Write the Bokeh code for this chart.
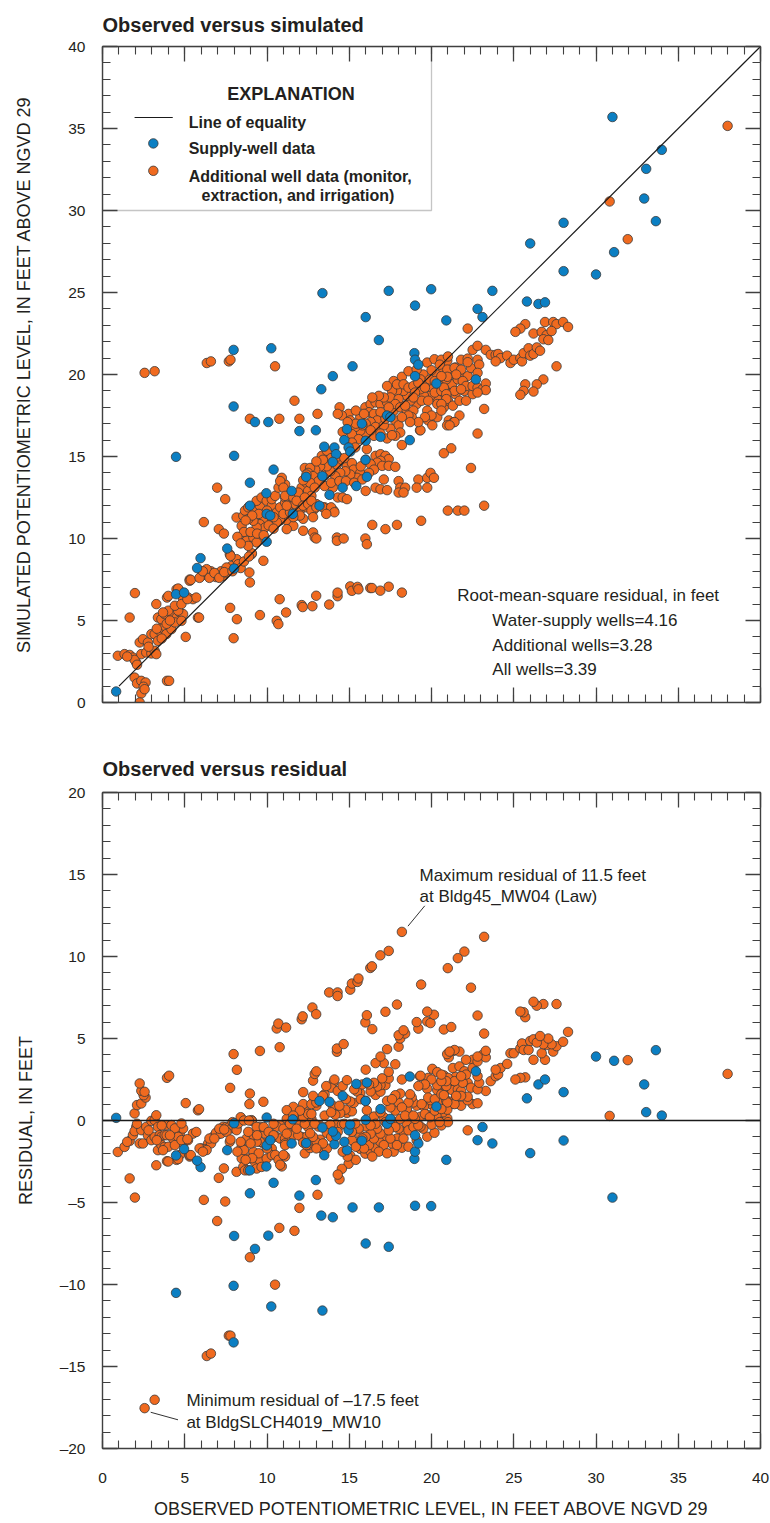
from bokeh.plotting import figure
from bokeh.models import (LinearAxis, SingleIntervalTicker, Range1d, Label,
                          BoxAnnotation, Span)
from bokeh.layouts import column
from bokeh.embed import file_html
from bokeh.resources import INLINE

# ---------------- data (feet above NGVD 29) ----------------
supply_obs = [0.83, 4.47, 7.97, 7.97, 8.0, 10.26, 13.37, 17.4, 19.98, 19.0, 16.0, 20.9,
              22.8, 16.8, 15.2, 14.0, 13.3, 18.96, 19.0, 19.2, 19.0, 20.3, 22.7, 9.27,
              10.08, 11.97, 12.97, 14.86, 15.77, 17.3, 17.5, 16.9, 18.68, 14.7, 16.0, 14.96,
              15.06, 13.48, 14.1, 14.2, 14.0, 15.99, 12.38, 13.37, 16.07, 14.6, 15.43, 8.96,
              11.5, 9.96, 13.8, 8.96, 13.19, 9.98, 10.2, 11.57, 9.98, 7.58, 5.96, 5.75,
              8.0, 4.47, 4.96, 10.4, 31.0, 34.0, 33.05, 32.93, 33.64, 28.03, 26.0, 31.1,
              28.03, 30.0, 23.7, 25.8, 26.5, 26.9, 23.1]
supply_sim = [0.67, 14.98, 21.5, 18.05, 15.04, 21.6, 24.96, 25.1, 25.2, 24.2, 23.5, 23.3,
              24.0, 22.1, 20.5, 19.9, 19.1, 21.3, 20.9, 20.6, 19.9, 19.45, 19.7, 17.1,
              17.1, 16.55, 16.6, 16.67, 17.0, 17.5, 17.4, 16.2, 16.0, 16.0, 15.96, 15.55,
              15.3, 15.6, 15.55, 15.14, 14.67, 14.8, 13.76, 13.8, 13.76, 13.1, 13.2, 13.4,
              12.9, 12.76, 12.66, 12.0, 12.0, 11.5, 11.4, 11.5, 9.8, 9.39, 8.8, 8.2,
              8.17, 6.6, 6.7, 14.2, 35.7, 33.7, 32.54, 30.73, 29.35, 29.25, 27.99, 27.46,
              26.3, 26.1, 25.1, 24.45, 24.3, 24.4, 23.5]

other_obs = [
    0.93, 1.34, 1.65, 1.85, 2.05, 1.95, 2.36, 2.66, 2.97, 3.17, 3.27, 2.26, 2.46, 2.76, 2.97,
    3.17, 3.37, 3.48, 3.58, 3.78, 3.88, 4.19, 3.37, 3.58, 3.78, 4.29, 4.5, 4.7, 4.9, 4.4,
    4.8, 3.92, 4.5, 4.7, 4.9, 5.2, 5.3, 5.8, 5.06, 3.27, 1.97, 1.65, 1.95, 2.1, 2.36,
    2.62, 2.5, 2.36, 2.56, 2.26, 3.92, 4.05, 2.1, 1.5, 2.8, 4.0, 4.6, 5.3, 4.6, 4.0,
    5.5, 5.7, 3.68, 3.6, 3.9, 4.1, 4.4, 4.8, 3.3,
    5.37, 5.16, 5.87, 7.97, 7.76, 8.17, 9.57, 6.02, 6.42, 6.73, 7.04, 7.34, 7.54, 6.2, 6.9,
    7.2, 5.9, 6.6, 7.7, 6.33, 7.74, 8.15, 7.85, 7.54, 8.15, 7.78, 8.25, 9.06, 9.78, 8.93,
    8.96, 9.08, 6.97, 7.46, 6.16, 7.07, 7.38, 8.15, 10.77,
    6.1, 6.5, 6.8, 7.1, 7.4, 7.9, 8.4, 8.6, 8.9,
    2.56, 3.17, 6.34, 6.59, 7.68, 7.78, 10.49, 11.67, 13.07, 11.97, 10.75, 8.96,
    10.59, 10.69, 11.16, 12.11, 12.17, 12.76, 12.99, 13.78, 14.29, 14.29, 15.06, 15.16, 15.5,
    15.56, 16.28, 16.38, 16.89, 17.4, 18.2,
    8.46, 8.56, 8.66, 8.86, 9.27, 9.57, 9.37, 9.67, 9.98, 10.29, 10.29, 10.18, 9.78, 9.57,
    9.88, 9.37, 9.17, 8.86, 8.46, 8.76, 9.17, 9.57, 9.37, 8.86, 10.6, 10.8, 11.1, 11.3, 11.1,
    11.7, 12.0, 12.0, 12.4, 12.8, 13.0, 13.5, 14.05, 11.8, 12.2, 11.2, 10.8, 11.6, 12.2, 12.8,
    12.9, 11.2, 10.6, 10.5, 10.7, 11.1, 12.1, 12.4, 12.5, 12.7, 13.2, 12.3, 12.8, 13.6, 14.25,
    14.25, 14.66, 15.98, 16.07, 16.4, 17.2, 17.9, 13.0, 10.9,
    8.6, 9.0, 9.4, 9.8, 10.1, 10.4, 10.0, 9.5, 9.1, 8.7, 8.2, 8.4, 10.4, 11.0, 11.4,
    10.8, 11.0, 11.1, 11.6, 11.9, 11.8, 12.3, 12.2, 12.5, 12.7, 12.7, 13.0, 13.4, 13.9, 14.1,
    13.6, 12.8, 12.0, 11.6, 11.2, 14.3, 14.0, 14.6, 14.86,
    13.33, 13.64, 14.25, 14.55, 14.86, 15.16, 15.27, 15.67, 15.47, 15.06, 14.76, 14.45, 14.15,
    13.85, 13.64, 13.23, 12.93, 12.62, 12.5, 12.8, 13.13, 12.62, 12.2,
    13.9, 14.3, 14.7, 13.4, 13.0, 12.4, 12.9, 13.5, 13.9, 14.4, 14.8, 15.3, 15.8, 15.7, 16.0,
    16.6, 16.9, 17.2, 17.4, 16.9, 16.7, 17.0, 17.4, 17.8, 16.3, 16.5, 16.2, 17.1, 16.6, 16.0,
    16.9, 17.3, 18.0, 18.1, 18.4, 18.0, 18.3, 19.2, 19.74, 19.94, 20.15, 19.74, 19.1, 19.37,
    20.99, 21.6, 22.0,
    14.41, 14.96, 14.55, 15.06, 15.67, 15.98, 16.3, 16.6, 16.9, 17.3, 16.2, 16.5, 16.9, 16.7,
    16.3, 17.7, 17.8, 18.0, 17.5, 18.1, 17.8, 16.5, 16.0, 15.67, 15.37, 15.16, 15.57, 15.16,
    15.37, 16.07, 18.2, 19.3, 20.75, 21.2,
    15.4, 15.9, 16.0, 16.6, 17.1, 17.2, 16.9, 17.3, 15.8, 15.4, 14.9, 14.6, 14.3, 16.3, 17.6,
    19.74, 20.18, 20.55, 20.96, 21.46, 21.5, 21.06, 20.7, 20.3, 20.0, 19.5, 19.33, 19.74, 20.05,
    20.75, 20.85, 21.35, 21.25, 20.65, 20.35, 19.94, 19.54, 19.33, 19.1, 18.72, 18.5, 18.3, 18.2,
    17.7, 17.9, 17.6, 17.5, 18.0, 17.8, 18.1, 18.5, 18.9, 18.8, 19.74, 20.35, 19.8, 20.05, 20.35,
    21.05, 21.35, 20.95, 19.33, 18.6, 18.2, 21.46, 20.75,
    17.9, 18.3, 18.6, 18.9, 19.2, 19.6, 19.9, 20.2, 20.5, 20.9, 21.2, 21.6, 19.0, 19.4, 19.8,
    20.2, 20.6, 21.0, 21.3, 21.7, 20.0, 19.6, 19.2, 18.7, 18.4, 18.9, 17.4, 17.1, 16.8, 16.4,
    17.3, 18.6, 19.1, 20.6, 21.0, 21.8, 22.2, 22.4, 22.0, 22.5,
    22.2, 25.7, 25.4, 25.1, 26.2, 26.9, 27.4, 27.6, 28.0, 28.3, 26.7, 27.0, 27.3, 26.8, 27.1,
    22.5, 22.8, 23.3, 23.6, 23.9, 24.05, 24.2, 23.9, 24.6, 24.8, 25.0, 25.4, 25.5, 25.6, 25.9,
    26.0, 26.2, 26.4, 26.6, 27.6, 26.8, 26.4, 26.2, 25.7, 25.6, 25.4, 23.2, 22.8, 22.1, 21.7,
    21.4, 21.1, 22.4, 23.2,
    21.8, 22.2, 22.2, 22.8, 22.9, 22.8, 20.5, 20.96, 21.4, 21.8, 21.5, 20.96, 20.6, 21.9, 22.1,
    22.5, 22.8, 23.1, 23.3, 23.3, 22.8, 21.4, 21.8, 20.75, 20.9, 20.9, 20.6, 20.6,
    38.0, 30.83, 31.93]
other_sim = [
    2.85, 2.95, 2.9, 2.74, 2.44, 2.6, 2.95, 3.05, 2.99, 3.15, 2.95, 3.66, 3.86, 3.66, 4.17,
    4.17, 3.76, 4.37, 4.57, 4.67, 4.17, 4.47, 5.18, 5.08, 5.39, 5.39, 5.18, 5.49, 5.39, 4.88,
    4.98, 6.4, 6.9, 6.8, 6.3, 6.4, 7.5, 5.18, 4.0, 6.0, 6.67, 5.18, 1.52, 1.16, 1.32,
    1.22, 0.96, 0.55, 0.81, 0.0, 1.32, 1.32, 2.3, 2.8, 3.4, 5.6, 5.6, 7.42, 6.95, 6.5,
    6.3, 6.4, 5.49, 3.9, 4.8, 5.0, 5.9, 6.0, 4.5,
    7.48, 6.3, 5.18, 3.92, 5.77, 5.08, 5.33, 7.72, 7.83, 7.72, 7.87, 7.72, 7.93, 7.95, 7.65,
    8.0, 7.6, 8.0, 8.1, 8.13, 9.04, 8.6, 8.33, 8.23, 8.74, 8.94, 8.43, 9.04, 8.64, 7.93,
    7.32, 9.1, 13.1, 12.4, 11.0, 10.57, 10.3, 11.28, 6.3,
    8.0, 7.6, 7.9, 7.6, 7.95, 8.0, 8.2, 8.6, 8.9,
    20.1, 20.2, 20.7, 20.8, 20.8, 20.9, 20.5, 18.4, 17.6, 17.3, 17.3, 17.3,
    4.98, 4.78, 5.49, 5.94, 5.82, 5.87, 6.51, 5.97, 6.48, 6.7, 7.08, 6.81, 7.05,
    6.9, 6.98, 6.98, 6.82, 7.06, 6.7,
    10.77, 11.38, 11.7, 11.9, 11.8, 12.0, 12.3, 12.5, 12.3, 12.0, 12.4, 11.28, 11.18, 10.87,
    10.67, 10.67, 11.08, 11.18, 10.06, 9.86, 10.06, 9.96, 9.76, 9.55, 11.6, 11.9, 12.2, 12.0, 12.5,
    12.1, 12.2, 11.7, 11.9, 11.7, 12.1, 11.9, 11.7, 11.4, 11.2, 11.1, 11.1, 10.77, 10.47, 10.37,
    10.06, 10.57, 10.98, 12.6, 13.1, 13.3, 13.1, 13.4, 12.9, 12.6, 13.5, 14.3, 14.3, 14.0, 10.06,
    9.86, 10.0, 10.0, 9.65, 10.83, 10.57, 10.83, 10.0, 13.7,
    10.4, 10.4, 10.3, 10.2, 10.8, 11.3, 11.7, 11.5, 11.4, 11.1, 10.1, 9.7, 10.6, 11.5, 11.6,
    13.5, 13.1, 12.6, 12.5, 12.8, 12.3, 12.5, 12.0, 12.1, 12.3, 11.7, 11.9, 11.9, 11.9, 11.6,
    11.5, 11.3, 11.4, 11.3, 12.0, 12.5, 13.1, 12.5, 12.4,
    15.04, 15.35, 14.5, 14.8, 14.4, 14.6, 14.2, 14.0, 13.7, 13.9, 14.1, 14.0, 13.8,
    14.1, 14.4, 14.4, 14.2, 14.3, 14.0, 13.8, 13.5, 13.4, 13.55,
    14.9, 15.0, 14.9, 14.8, 14.7, 13.9, 13.1, 13.2, 13.4, 13.5, 13.5, 13.4, 13.6, 14.4, 14.8,
    15.04, 15.14, 15.04, 14.84, 14.74, 14.63, 14.43, 14.43, 14.37, 14.53, 14.2, 14.0, 13.6, 13.1, 12.9,
    13.0, 12.95, 13.5, 13.1, 13.1, 12.8, 12.8, 13.6, 13.7, 14.0, 13.7, 13.1, 13.1, 11.08,
    11.7, 11.7, 11.7,
    18.0, 17.6, 17.5, 17.2, 17.4, 18.0, 18.2, 18.3, 18.2, 18.3, 17.7, 17.6, 17.7, 17.2,
    17.1, 17.8, 17.2, 16.9, 16.7, 16.46, 16.26, 16.26, 16.36, 16.57, 16.8, 16.36, 16.06, 15.85,
    15.55, 15.45, 15.7, 16.6, 15.2, 15.5,
    17.8, 17.6, 17.0, 16.8, 16.9, 17.3, 16.4, 16.1, 16.9, 17.0, 17.1, 16.5, 17.6, 16.6, 16.3,
    20.73, 20.93, 20.63, 20.83, 20.43, 20.06, 19.9, 20.2, 20.0, 20.26, 20.0, 19.7, 19.4, 19.1,
    19.5, 19.0, 19.0, 19.4, 18.7, 18.5, 18.7, 18.7, 19.1, 18.2, 18.4, 18.7, 19.0, 19.86,
    19.6, 19.0, 19.0, 18.6, 18.5, 18.2, 18.0, 17.8, 17.8, 17.4, 17.8, 18.2, 17.2, 16.9, 17.4,
    17.2, 17.1, 16.9, 16.6, 17.5, 17.4, 18.8, 18.0,
    19.4, 19.4, 19.2, 19.3, 19.5, 19.2, 19.7, 19.6, 19.3, 19.7, 20.2, 19.7, 18.9, 18.4, 18.4,
    18.9, 19.0, 18.4, 18.1, 18.4, 17.5, 17.4, 17.1, 17.1, 18.1, 18.6, 18.0, 18.6, 18.7, 18.6,
    19.3, 20.2, 20.3, 20.9, 21.1, 20.0, 19.9, 20.4, 19.0, 18.8,
    22.8, 23.07, 22.8, 22.6, 22.5, 23.2, 23.2, 23.07, 23.2, 22.9, 22.6, 22.4, 22.65, 22.15, 22.1,
    21.5, 21.75, 21.5, 21.2, 21.2, 21.25, 21.0, 20.8, 21.15, 20.7, 20.9, 21.0, 20.8, 21.3, 21.6,
    21.15, 21.25, 21.65, 21.45, 20.5, 19.7, 19.4, 18.96, 19.4, 19.0, 18.76, 17.9, 16.4, 18.4, 17.5,
    17.1, 16.9, 14.3, 12.0,
    20.9, 20.97, 20.75, 20.9, 20.6, 20.1, 20.6, 20.3, 20.4, 20.3, 20.0, 19.86, 19.9, 19.6, 19.3,
    19.3, 19.2, 19.1, 19.45, 19.05, 18.9, 19.0, 19.1, 19.2, 18.8, 18.5, 18.2, 17.8,
    35.16, 30.55, 28.25]

# residual = observed - simulated
supply_res = [o - s for o, s in zip(supply_obs, supply_sim)]
other_res = [o - s for o, s in zip(other_obs, other_sim)]

equality = [1, 40]
tick_interval = 5

# ---------------- style ----------------
FONT = "Liberation Sans"
BLUE = "#0b7fc3"
ORANGE = "#f06a1f"
EDGE = "#3a3a3a"
AXC = "#404040"
TXT = "#231f20"
MS = 9.5


def style_axis(ax, labels=True):
    ax.ticker = SingleIntervalTicker(interval=tick_interval, num_minor_ticks=5)
    ax.major_tick_in = 15
    ax.major_tick_out = 0
    ax.minor_tick_in = 8
    ax.minor_tick_out = 0
    ax.axis_line_color = AXC
    ax.axis_line_width = 1.4
    ax.major_tick_line_color = AXC
    ax.major_tick_line_width = 1.3
    ax.minor_tick_line_color = AXC
    ax.minor_tick_line_width = 1.1
    ax.major_label_text_font = FONT
    ax.major_label_text_font_size = "15.5px"
    ax.major_label_text_color = TXT
    ax.axis_label_text_font = FONT
    ax.axis_label_text_font_size = "18px"
    ax.axis_label_text_font_style = "normal"
    ax.axis_label_text_color = TXT
    if not labels:
        ax.major_label_text_color = None
        ax.major_label_text_font_size = "0px"
        ax.major_label_standoff = 0


def base_fig(h, yr, btop, bbot, title, standoff):
    p = figure(width=770, height=h, x_range=Range1d(0, 40), y_range=Range1d(*yr),
               output_backend="svg", toolbar_location=None,
               min_border_left=102, min_border_right=10,
               min_border_top=btop, min_border_bottom=bbot)
    p.grid.visible = False
    p.outline_line_color = None
    p.background_fill_color = "white"
    p.border_fill_color = "white"
    p.add_layout(LinearAxis(), "above")
    p.add_layout(LinearAxis(), "right")
    p.title.text = title
    p.title.text_font = FONT
    p.title.text_font_size = "20px"
    p.title.text_font_style = "bold"
    p.title.text_color = TXT
    p.title.align = "left"
    p.title.offset = 0
    p.title.standoff = standoff
    return p


def lab(p, x, y, text, size, bold=False, align="left"):
    p.add_layout(Label(x=x, y=y, text=text, text_font=FONT, text_font_size=size,
                       text_font_style="bold" if bold else "normal", text_color=TXT,
                       text_align=align, text_baseline="alphabetic"))


# ---------------- top: observed vs simulated ----------------
p1 = base_fig(712, (0, 40), 46, 10, "Observed versus simulated", 21)
for ax in p1.xaxis + p1.yaxis:
    style_axis(ax, labels=False)
yl = p1.left[0]
style_axis(yl, labels=True)
yl.major_label_standoff = 17
yl.axis_label = "SIMULATED POTENTIOMETRIC LEVEL, IN FEET ABOVE NGVD 29"
yl.axis_label_standoff = 31

p1.add_layout(BoxAnnotation(left=0, right=20, bottom=30, top=40, fill_color="white",
                            fill_alpha=1, line_color=AXC, line_width=1.3, level="underlay"))

p1.scatter(other_obs, other_sim, marker="circle", size=MS, fill_color=ORANGE,
           line_color=EDGE, line_width=0.8)
p1.scatter(supply_obs, supply_sim, marker="circle", size=MS, fill_color=BLUE,
           line_color=EDGE, line_width=0.8)
p1.line(equality, equality, line_color="#1a1a1a", line_width=1.2)

# explanation (legend) contents
p1.line([1.95, 4.27], [35.67, 35.67], line_color="#1a1a1a", line_width=1.2)
p1.scatter([3.09], [34.09], marker="circle", size=MS, fill_color=BLUE, line_color=EDGE, line_width=0.8)
p1.scatter([3.09], [32.42], marker="circle", size=MS, fill_color=ORANGE, line_color=EDGE, line_width=0.8)

lab(p1, 11.46, 37.13, "EXPLANATION", "18px", bold=True, align="center")
lab(p1, 5.24, 35.37, "Line of equality", "16px", bold=True)
lab(p1, 5.24, 33.8, "Supply-well data", "16px", bold=True)
lab(p1, 5.24, 32.07, "Additional well data (monitor,", "16px", bold=True)
lab(p1, 6.02, 30.94, "extraction, and irrigation)", "16px", bold=True)

lab(p1, 21.57, 6.55, "Root-mean-square residual, in feet", "17px")
lab(p1, 23.7, 4.98, "Water-supply wells=4.16", "17px")
lab(p1, 23.7, 3.5, "Additional wells=3.28", "17px")
lab(p1, 23.7, 2.04, "All wells=3.39", "17px")

# ---------------- bottom: observed vs residual ----------------
p2 = base_fig(811, (-20, 20), 80, 75, "Observed versus residual", 25)
for ax in p2.xaxis + p2.yaxis:
    style_axis(ax, labels=False)
xb = p2.below[0]
style_axis(xb, labels=True)
xb.major_label_standoff = 24
xb.axis_label = "OBSERVED POTENTIOMETRIC LEVEL, IN FEET ABOVE NGVD 29"
xb.axis_label_standoff = 13
yb = p2.left[0]
style_axis(yb, labels=True)
yb.major_label_standoff = 17
yb.major_label_overrides = {-5: "\u20135", -10: "\u201310", -15: "\u201315", -20: "\u201320"}
yb.axis_label = "RESIDUAL, IN FEET"
yb.axis_label_standoff = 21

p2.scatter(other_obs, other_res, marker="circle", size=MS, fill_color=ORANGE,
           line_color=EDGE, line_width=0.8)
p2.scatter(supply_obs, supply_res, marker="circle", size=MS, fill_color=BLUE,
           line_color=EDGE, line_width=0.8)
p2.add_layout(Span(location=0, dimension="width", line_color="#1a1a1a", line_width=1.3))

# annotations of extreme residuals (leaders anchored on the extreme points)
all_obs = other_obs + supply_obs
all_res = other_res + supply_res
imax = max(range(len(all_res)), key=lambda i: all_res[i])
imin = min(range(len(all_res)), key=lambda i: all_res[i])
mx, my = all_obs[imax], all_res[imax]
nx, ny = all_obs[imin], all_res[imin]
p2.line([mx + 0.37, mx + 1.39], [my + 0.35, my + 1.59], line_color="#333333", line_width=1)
p2.line([nx + 0.37, nx + 2.03], [ny - 0.25, ny - 0.71], line_color="#333333", line_width=1)

lab(p2, 19.27, 14.96, "Maximum residual of 11.5 feet", "17px")
lab(p2, 19.27, 13.63, "at Bldg45_MW04 (Law)", "17px")
lab(p2, 5.1, -17.1, "Minimum residual of \u201317.5 feet", "17px")
lab(p2, 5.1, -18.44, "at BldgSLCH4019_MW10", "17px")

layout = column(p1, p2, spacing=0)
open("out.html", "w").write(file_html(layout, INLINE))
